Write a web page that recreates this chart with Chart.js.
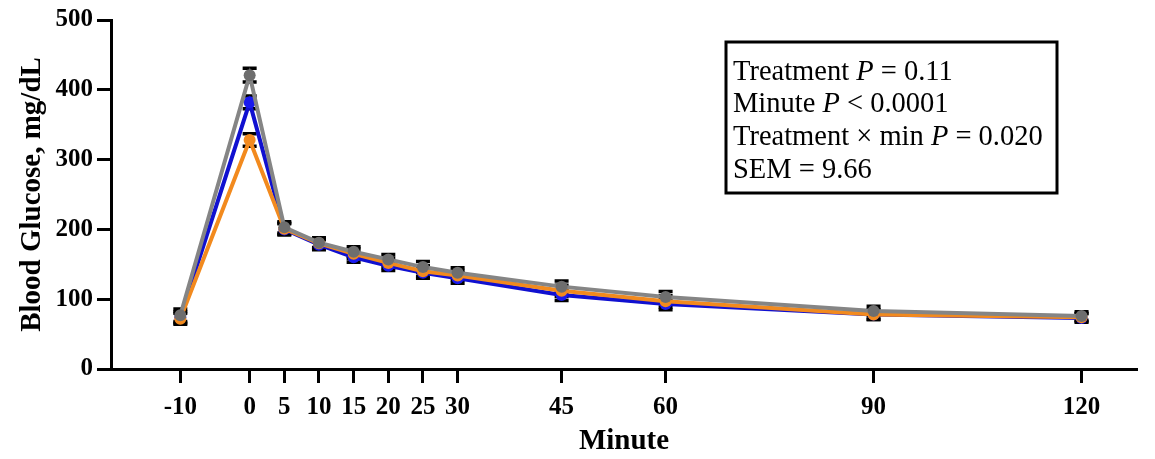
<!DOCTYPE html>
<html>
<head>
<meta charset="utf-8">
<script src="https://cdn.jsdelivr.net/npm/chart.js@4.4.1/dist/chart.umd.min.js"></script>
<style>
  html, body { margin: 0; padding: 0; background: #ffffff; }
  #wrap { width: 1155px; height: 459px; position: relative; }
</style>
</head>
<body>
<div id="wrap"><canvas id="c" width="1155" height="459"></canvas></div>
<script>
// ---- data ----
const minutes = [-10, 0, 5, 10, 15, 20, 25, 30, 45, 60, 90, 120];
const xTickValues = [-10, 0, 5, 10, 15, 20, 25, 30, 45, 60, 90, 120];
const greyValues   = [77, 421, 203, 181, 168, 157, 146, 138, 118, 103, 83, 76];
const orangeValues = [72, 328, 201, 180, 165, 152, 140, 134, 112, 97, 78, 74];
const blueValues   = [74, 382, 200, 178, 160, 148, 138, 130, 106, 93, 78, 73];
const greyErr   = [9, 10, 8, 7, 7, 7, 8, 7, 8, 8, 7, 6];
const orangeErr = [8, 9, 8, 7, 7, 7, 8, 7, 8, 8, 7, 6];
const blueErr   = [8, 9, 8, 7, 7, 7, 8, 7, 8, 8, 7, 6];
const statLines = [
  [["Treatment ", false], ["P", true], [" = 0.11", false]],
  [["Minute ", false], ["P", true], [" < 0.0001", false]],
  [["Treatment \u00d7 min ", false], ["P", true], [" = 0.020", false]],
  [["SEM = 9.66", false]]
];

const serif = "'Liberation Serif', 'Times New Roman', serif";

function toPoints(vals) { return minutes.map((m, i) => ({ x: m, y: vals[i] })); }

const errorBarPlugin = {
  id: 'errorBars',
  beforeDatasetsDraw(chart) {
    const ctx = chart.ctx;
    const ys = chart.scales.y;
    ctx.save();
    ctx.strokeStyle = '#000000';
    chart.data.datasets.forEach((ds, di) => {
      const meta = chart.getDatasetMeta(di);
      meta.data.forEach((pt, i) => {
        const v = ds.data[i].y, e = ds.errors[i];
        const yTop = ys.getPixelForValue(v + e);
        const yBot = ys.getPixelForValue(v - e);
        const x = pt.x;
        ctx.lineWidth = 4;
        ctx.beginPath();
        ctx.moveTo(x, yTop); ctx.lineTo(x, yBot);
        ctx.stroke();
        ctx.lineWidth = 3.5;
        ctx.beginPath();
        ctx.moveTo(x - 7, yTop); ctx.lineTo(x + 7, yTop);
        ctx.moveTo(x - 7, yBot); ctx.lineTo(x + 7, yBot);
        ctx.stroke();
      });
    });
    ctx.restore();
  }
};

const statBoxPlugin = {
  id: 'statBox',
  afterDraw(chart) {
    const ctx = chart.ctx;
    ctx.save();
    ctx.strokeStyle = '#000000';
    ctx.lineWidth = 3;
    ctx.strokeRect(726, 42, 331, 151);
    ctx.fillStyle = '#000000';
    ctx.textBaseline = 'alphabetic';
    ctx.textAlign = 'left';
    const baselines = [80, 112, 145, 178];
    statLines.forEach((segs, li) => {
      let x = 733;
      segs.forEach(([txt, ital]) => {
        ctx.font = (ital ? 'italic ' : '') + '28.5px ' + serif;
        ctx.fillText(txt, x, baselines[li]);
        x += ctx.measureText(txt).width;
      });
    });
    ctx.restore();
  }
};

new Chart(document.getElementById('c'), {
  type: 'line',
  data: {
    datasets: [
      { label: 'Grey', data: toPoints(greyValues), errors: greyErr,
        borderColor: '#858585', backgroundColor: '#6e6e6e', borderWidth: 4,
        pointRadius: 6, pointBorderWidth: 0, pointBackgroundColor: '#6e6e6e', tension: 0 },
      { label: 'Orange', data: toPoints(orangeValues), errors: orangeErr,
        borderColor: '#f28a1e', backgroundColor: '#f28a1e', borderWidth: 4,
        pointRadius: 6, pointBorderWidth: 0, pointBackgroundColor: '#f28a1e', tension: 0 },
      { label: 'Blue', data: toPoints(blueValues), errors: blueErr,
        borderColor: '#1010d0', backgroundColor: '#1515e0', borderWidth: 4,
        pointRadius: 6, pointBorderWidth: 0, pointBackgroundColor: '#1a1aee', tension: 0 }
    ]
  },
  options: {
    responsive: false,
    animation: false,
    layout: { padding: { left: 0, right: 18, top: 20, bottom: 0 } },
    plugins: { legend: { display: false }, tooltip: { enabled: false } },
    scales: {
      x: {
        type: 'linear',
        min: -20, max: 128,
        afterBuildTicks: (axis) => { axis.ticks = xTickValues.map(v => ({ value: v })); },
        afterFit: (scale) => { scale.height = 90; },
        grid: { display: true, drawOnChartArea: false, drawTicks: true, tickLength: 14, tickWidth: 3, tickColor: '#000000' },
        border: { display: true, color: '#000000', width: 3 },
        ticks: { color: '#000000', padding: 10, maxRotation: 0, autoSkip: false,
                 font: { family: serif, size: 25, weight: 'bold' } },
        title: { display: true, text: 'Minute', color: '#000000', padding: { top: 0, bottom: 0 },
                 font: { family: serif, size: 29, weight: 'bold' } }
      },
      y: {
        min: 0, max: 500,
        afterFit: (scale) => { scale.width = 111; },
        grid: { display: true, drawOnChartArea: false, drawTicks: true, tickLength: 14, tickWidth: 3, tickColor: '#000000' },
        border: { display: true, color: '#000000', width: 3 },
        ticks: { stepSize: 100, color: '#000000', padding: 4,
                 font: { family: serif, size: 25, weight: 'bold' } },
        title: { display: true, text: 'Blood Glucose, mg/dL', color: '#000000', padding: { top: 15, bottom: 0 },
                 font: { family: serif, size: 29, weight: 'bold' } }
      }
    }
  },
  plugins: [errorBarPlugin, statBoxPlugin]
});
</script>
</body>
</html>
